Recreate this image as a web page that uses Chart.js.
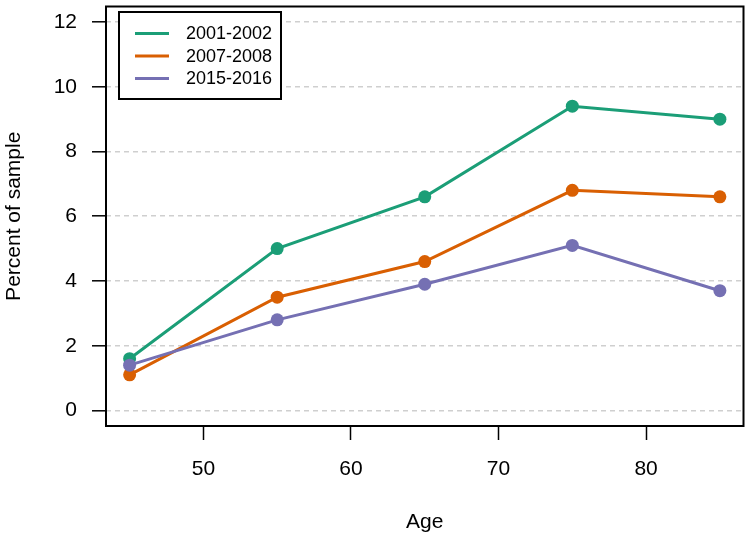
<!DOCTYPE html>
<html>
<head>
<meta charset="utf-8">
<script src="https://cdn.jsdelivr.net/npm/chart.js@4/dist/chart.umd.min.js"></script>
<style>
html,body{margin:0;padding:0;background:#fff;}
#wrap{width:750px;height:538px;}
</style>
</head>
<body>
<div id="wrap"><canvas id="c" width="750" height="538"></canvas></div>
<script>
const ages = [45, 55, 65, 75, 85];
const seriesLabels = ['2001-2002', '2007-2008', '2015-2016'];
const s2001 = [1.6, 5.0, 6.6, 9.4, 9.0];
const s2007 = [1.1, 3.5, 4.6, 6.8, 6.6];
const s2015 = [1.4, 2.8, 3.9, 5.1, 3.7];
const xTicks = [50, 60, 70, 80];
const yTicks = [0, 2, 4, 6, 8, 10, 12];
const colors = ['#1B9E77', '#D95F02', '#7570B3'];

const FONT = "'Liberation Sans', Arial, Helvetica, sans-serif";

function mk(label, vals, color, order) {
  return {
    label: label,
    data: ages.map((a, i) => ({x: a, y: vals[i]})),
    borderColor: color,
    backgroundColor: color,
    pointBackgroundColor: color,
    pointBorderColor: color,
    pointRadius: 6.5,
    pointBorderWidth: 0,
    borderWidth: 3,
    tension: 0,
    order: order
  };
}

const frame = {
  id: 'frame',
  afterDraw(chart) {
    const ctx = chart.ctx;
    const a = chart.chartArea;
    ctx.save();
    ctx.strokeStyle = '#000';
    ctx.lineWidth = 2;
    ctx.strokeRect(a.left, a.top, a.right - a.left, a.bottom - a.top);
    // legend
    const lx = 119, ly = 12, lw = 162, lh = 87;
    ctx.fillStyle = '#fff';
    ctx.fillRect(lx, ly, lw, lh);
    ctx.strokeRect(lx, ly, lw, lh);
    const rows = [33.5, 56, 78.5];
    ctx.font = '18px ' + FONT;
    ctx.textBaseline = 'middle';
    ctx.textAlign = 'left';
    chart.data.datasets.forEach((ds, i) => {
      ctx.strokeStyle = ds.borderColor;
      ctx.lineWidth = 3;
      ctx.beginPath();
      ctx.moveTo(135, rows[i]);
      ctx.lineTo(169, rows[i]);
      ctx.stroke();
      ctx.fillStyle = '#000';
      ctx.fillText(ds.label, 186, rows[i] + 1);
    });
    ctx.restore();
  }
};

new Chart(document.getElementById('c'), {
  type: 'line',
  data: {
    datasets: [
      mk(seriesLabels[0], s2001, colors[0], 2),
      mk(seriesLabels[1], s2007, colors[1], 1),
      mk(seriesLabels[2], s2015, colors[2], 0)
    ]
  },
  options: {
    responsive: false,
    animation: false,
    devicePixelRatio: 1,
    layout: {padding: {top: 4, right: 6, left: 0, bottom: 0}},
    plugins: {legend: {display: false}, tooltip: {enabled: false}},
    scales: {
      x: {
        type: 'linear',
        min: 43.4,
        max: 86.6,
        afterBuildTicks: (s) => { s.ticks = xTicks.map(v => ({value: v})); },
        afterFit: (s) => { s.height = 112; s.paddingLeft = 0; s.paddingRight = 0; },
        grid: {drawOnChartArea: false, tickLength: 14, tickColor: '#000', tickWidth: 1.5},
        border: {display: false},
        ticks: {color: '#000', font: {family: FONT, size: 21}, padding: 17, maxRotation: 0, autoSkip: false},
        title: {display: true, text: 'Age', color: '#000', font: {family: FONT, size: 21}, padding: {top: 0, bottom: 3}}
      },
      y: {
        type: 'linear',
        min: -0.48,
        max: 12.48,
        afterBuildTicks: (s) => { s.ticks = yTicks.map(v => ({value: v})); },
        afterFit: (s) => { s.width = 106; s.paddingTop = 0; s.paddingBottom = 0; },
        grid: {color: '#cfcfcf', lineWidth: 1.6, tickLength: 14, tickColor: '#000', tickWidth: 1.5, tickBorderDash: []},
        border: {display: false, dash: [5, 4]},
        ticks: {color: '#000', font: {family: FONT, size: 21}, padding: 15, autoSkip: false},
        title: {display: true, text: 'Percent of sample', color: '#000', font: {family: FONT, size: 21}, padding: {top: 2, bottom: 0}}
      }
    }
  },
  plugins: [frame]
});
</script>
</body>
</html>
